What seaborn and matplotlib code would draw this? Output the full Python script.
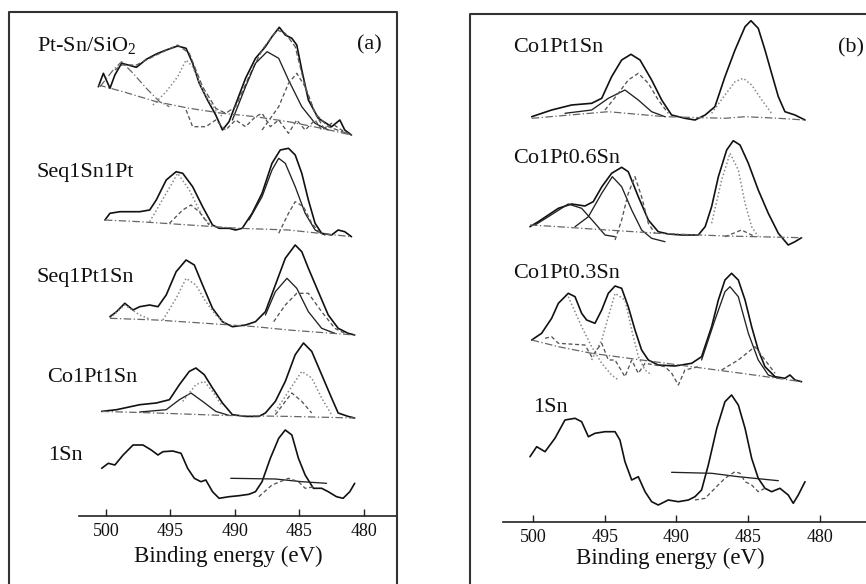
import matplotlib
matplotlib.use("Agg")
import matplotlib.pyplot as plt
import seaborn as sns
import pandas as pd
from matplotlib.lines import Line2D

# ---------------- data: (binding energy eV, intensity above spectrum baseline) ----------------
# Panel (a)
a1_raw = [(500.59, 48.3), (500.20, 61.7), (499.69, 46.7), (499.31, 60), (498.79, 71.7), (498.28, 70),
          (497.64, 67.7), (496.87, 75.7), (496.10, 81), (495.33, 85), (494.44, 89), (493.79, 86.7),
          (493.28, 71.7), (492.77, 51.7), (492.13, 35), (491.49, 20), (490.97, 5), (490.46, 13.3),
          (489.82, 35), (489.18, 56.7), (488.41, 76.7), (487.64, 88.3), (487.13, 98.3), (486.56, 107.7),
          (486.10, 100), (485.59, 96.7), (485.21, 90), (484.82, 65), (484.31, 35), (483.54, 16.7),
          (482.51, 8.3), (481.87, 15), (481.49, 5), (480.97, 0)]
a1_fit = [(499.31, 65), (498.79, 70), (497.64, 70), (496.10, 80), (494.44, 90), (493.54, 81.7),
          (492.51, 48.3), (491.49, 26.7), (490.72, 21.7), (489.95, 28.3), (488.92, 58.3), (487.90, 85),
          (486.74, 105), (486.10, 101.7), (485.33, 88.3), (484.56, 48.3), (483.79, 21.7), (482.77, 8.3),
          (480.97, 0)]
a1_c487 = [(490.20, 15), (489.18, 48.3), (488.41, 71.7), (487.51, 83.3), (486.61, 76.7), (485.85, 55),
           (484.82, 28.3), (483.79, 11.7), (482.77, 5)]
a1_c485 = [(487.90, 5), (486.61, 28.3), (485.85, 51.7), (485.21, 61.7), (484.56, 48.3), (483.79, 21.7),
           (483.03, 5)]
a1_c494 = [(496.36, 30), (495.33, 43.3), (494.44, 58.3), (493.79, 75), (493.28, 68.3), (492.51, 45),
           (491.74, 28.3), (490.97, 18.3)]
a1_c499 = [(500.46, 48.3), (499.44, 65), (498.79, 73.3), (497.90, 61.7), (496.87, 46.7), (495.84, 33.3),
           (495.08, 28.3)]
a1_res = [(493.79, 25), (493.28, 8.3), (492.26, 8.3), (491.49, 15), (490.72, 5), (489.95, 15), (489.18, 8.3),
          (488.41, 18.3), (487.90, 21.7), (487.26, 8.3), (486.61, 15), (485.85, 1.7), (485.21, 15),
          (484.56, 5), (483.79, 15), (483.28, 5), (482.51, 11.7), (481.74, 5), (480.97, 0)]
a1_bg = [(500.59, 50), (498.67, 43.3), (496.10, 33.3), (493.54, 26.7), (490.97, 21.7), (488.41, 18.3),
         (485.85, 13.3), (483.28, 6.7), (480.97, 0)]

a2_raw = [(500.08, 17), (499.69, 23.7), (498.92, 25.3), (497.38, 25.3), (496.61, 27), (496.10, 37),
          (495.33, 57), (494.56, 65.3), (494.05, 63.7), (493.28, 50.3), (492.51, 30.3), (491.74, 12),
          (491.23, 8.7), (490.46, 8.7), (489.95, 7), (489.44, 8.7), (488.67, 23.7), (487.90, 43.7),
          (487.13, 73.7), (486.49, 87), (485.85, 88.7), (485.33, 82), (484.82, 63.7), (484.31, 37),
          (483.79, 13.7), (483.28, 3.7), (482.51, 2), (482.00, 7), (481.49, 5.3), (480.97, 0.3)]
a2_c486 = [(488.92, 17), (487.90, 40.3), (487.13, 67), (486.61, 78.7), (486.10, 73.7), (485.33, 50.3),
           (484.56, 23.7), (483.79, 7), (483.03, 2)]
a2_c485 = [(486.61, 3.7), (485.85, 23.7), (485.33, 35.3), (484.69, 30.3), (484.05, 13.7), (483.28, 2)]
a2_c494 = [(496.61, 15.3), (495.33, 43.7), (494.44, 63.7), (493.54, 47), (492.51, 20.3), (491.74, 10.3)]
a2_c493 = [(495.08, 13.7), (494.05, 27), (493.41, 32), (492.77, 25.3), (492.00, 12)]
a2_bg = [(500.08, 17), (497.38, 15.3), (493.54, 12), (489.69, 8.7), (485.85, 7), (480.97, 0.3)]

a3_raw = [(499.69, 18.3), (499.18, 23.3), (498.54, 31.7), (497.90, 25), (497.38, 28.3), (496.61, 30),
          (495.97, 28.3), (495.33, 40), (494.56, 63.3), (493.79, 75), (493.15, 70), (492.51, 50),
          (491.74, 26.7), (490.97, 13.3), (490.20, 8.3), (489.18, 10), (488.41, 13.3), (487.64, 23.3),
          (486.87, 50), (486.10, 76.7), (485.33, 90), (484.82, 83.3), (484.31, 66.7), (483.54, 43.3),
          (482.77, 20), (482.00, 6.7), (481.23, 1.7), (480.72, 0)]
a3_c486 = [(487.64, 20), (486.87, 43.3), (485.97, 56.7), (485.21, 46.7), (484.31, 23.3), (483.28, 6.7),
           (482.26, 1.7)]
a3_c485 = [(487.00, 13.3), (486.10, 30), (485.21, 41.7), (484.31, 41.7), (483.28, 23.3), (482.26, 6.7),
           (481.49, 1.7)]
a3_c494 = [(495.59, 15), (494.56, 36.7), (493.79, 56.7), (493.03, 50), (492.26, 33.3), (491.49, 20),
           (490.72, 11.7)]
a3_c499 = [(499.69, 16.7), (498.54, 30), (497.38, 20), (496.61, 16)]
a3_bg = [(499.69, 16.7), (496.10, 15), (492.26, 11.7), (488.41, 8.3), (485.85, 5), (480.72, 0)]

a4_raw = [(500.33, 6.6), (499.18, 8.3), (497.38, 13.3), (496.10, 15), (495.08, 18.3), (494.31, 33.3),
          (493.54, 46.6), (493.03, 50), (492.38, 43.3), (491.74, 30), (490.97, 15), (490.20, 3.3),
          (489.18, 1.6), (488.15, 1.6), (487.64, 5), (486.87, 16.6), (486.10, 36.6), (485.33, 63.3),
          (484.69, 75), (484.05, 66.6), (483.28, 43.3), (482.51, 20), (482.00, 5), (481.23, 1.6),
          (480.72, 0)]
a4_c493s = [(497.38, 6), (495.33, 8.3), (494.31, 18.3), (493.41, 25), (492.51, 16.6), (491.49, 6.6),
            (490.46, 2.6)]
a4_c492 = [(494.05, 16.6), (493.03, 33.3), (492.38, 36.6), (491.74, 26.6), (490.97, 11.6)]
a4_c485 = [(486.87, 6.6), (485.85, 26.6), (484.82, 46.6), (484.05, 40), (483.28, 20), (482.51, 3.3)]
a4_c486 = [(486.87, 3.3), (486.10, 16.6), (485.59, 25), (484.82, 16.6), (484.05, 5)]
a4_bg = [(500.33, 6.6), (496.10, 5), (490.97, 2.6), (485.85, 1.6), (480.72, 0)]

a5_raw = [(500.33, 31.7), (499.82, 36.7), (499.31, 35), (498.67, 45), (497.90, 55), (497.13, 55),
          (496.49, 50), (495.97, 45), (495.59, 48.3), (494.82, 49), (494.18, 46.7), (493.67, 31.7),
          (493.15, 21.7), (492.64, 18.3), (492.26, 20), (491.74, 8.3), (491.23, 1.7), (490.46, 3.3),
          (489.69, 4.3), (488.92, 5.7), (488.41, 8.3), (487.90, 18.3), (487.26, 41.7), (486.61, 61.7),
          (486.10, 70), (485.59, 65), (485.08, 41.7), (484.56, 25), (483.92, 11.7), (483.28, 11.7),
          (482.77, 8.3), (482.13, 3.3), (481.62, 1.7), (481.10, 8.3), (480.72, 16.7)]
a5_bg = [(490.33, 21.7), (486.87, 21), (484.82, 18.3), (482.90, 16.7)]
a5_c486 = [(488.15, 3.3), (487.13, 15), (485.85, 21.7), (485.08, 18.3), (484.56, 11.7), (483.79, 13.3)]

# Panel (b)
b1_raw = [(500.09, 3.3), (498.70, 10), (497.31, 15), (495.91, 16.7), (495.21, 21.7), (494.52, 43.3),
          (493.82, 60), (493.17, 65.7), (492.54, 60), (491.73, 40), (491.03, 20), (490.34, 5),
          (489.41, 1.7), (488.71, 0), (488.00, 5), (487.32, 13.3), (486.62, 43.3), (485.92, 70),
          (485.22, 93.3), (484.81, 99.3), (484.30, 91.7), (483.83, 70), (483.37, 46.7), (482.90, 23.3),
          (482.44, 8.3), (481.74, 5), (481.04, 0)]
b1_c494 = [(497.77, 6.7), (495.91, 10), (494.75, 21.7), (493.59, 30), (492.66, 20), (491.73, 8.3),
           (490.80, 3.3)]
b1_c493 = [(494.98, 10), (494.05, 26.7), (493.36, 40), (492.66, 46.7), (491.96, 36.7), (491.27, 20),
           (490.57, 6.7)]
b1_c485 = [(487.55, 6.7), (486.62, 25), (485.92, 38.3), (485.34, 41.7), (484.76, 35), (484.05, 20),
           (483.37, 6.7)]
b1_bg = [(500.09, 1.7), (494.75, 8.3), (490.80, 3.3), (486.62, 1.7), (485.22, 3.3), (482.90, 1.7),
         (481.04, 0)]

b2_raw = [(500.21, 11.3), (499.63, 16.3), (498.93, 23), (498.23, 29.7), (497.31, 34), (496.38, 32),
          (495.80, 36.3), (495.20, 51.3), (494.52, 64.7), (493.82, 70.7), (493.36, 66.3), (492.66, 41.3),
          (491.96, 18), (491.27, 6.3), (490.57, 4), (489.64, 3), (488.48, 3), (488.00, 11.3),
          (487.55, 31.3), (487.08, 61.3), (486.50, 88), (486.04, 97.3), (485.57, 93), (484.99, 74.7),
          (484.30, 48), (483.60, 24.7), (482.90, 4.7), (482.21, -7), (481.74, -3.7), (481.28, 0.3)]
b2_c494 = [(497.07, 11.3), (496.14, 21.3), (495.21, 44.7), (494.47, 61.3), (493.82, 51.3), (493.12, 28),
           (492.43, 8), (491.73, -0.3), (490.80, -3.7)]
b2_c497 = [(499.86, 13), (498.93, 21.3), (497.54, 34), (496.61, 29.7), (495.68, 14.7), (494.98, 3),
           (494.28, 1.3)]
b2_c493 = [(494.28, -2), (493.82, 18), (493.36, 44.7), (492.89, 61.3), (492.43, 41.3), (491.96, 14.7),
           (491.50, 4.7)]
b2_c486 = [(487.55, 14.7), (486.85, 58), (486.27, 84.7), (485.69, 68), (485.22, 34.7), (484.76, 11.3),
           (484.30, 1.3)]
b2_c485 = [(486.62, 1.3), (485.46, 8), (484.53, 1.3)]
b2_bg = [(500.21, 13), (498.23, 11.3), (495.91, 9), (491.27, 4.7), (486.62, 2), (481.28, 0.3)]

b3_raw = [(500.09, 41.7), (499.40, 48.4), (498.70, 63.4), (498.23, 78.4), (497.54, 88.4), (497.07, 85),
          (496.61, 68.4), (496.26, 61.7), (495.68, 58.4), (495.21, 71.7), (494.75, 88.4), (494.28, 95.7),
          (493.82, 93.4), (493.36, 75), (492.89, 51.7), (492.43, 31.7), (491.96, 21.7), (491.27, 16.7),
          (490.10, 15.7), (488.94, 18.4), (488.25, 25), (487.55, 55), (487.08, 81.7), (486.62, 101.7),
          (486.16, 108.4), (485.69, 101.7), (485.22, 81.7), (484.76, 55), (484.30, 31.7), (483.83, 15),
          (483.13, 5), (482.44, 3.4), (482.09, 6.7), (481.74, 1.7), (481.28, 0)]
b3_c486 = [(488.25, 21.7), (487.32, 61.7), (486.62, 90), (486.27, 95), (485.69, 85), (484.99, 48.4),
           (484.30, 21.7), (483.60, 6.7), (482.90, 3.4)]
b3_c497 = [(497.54, 85), (496.61, 55), (495.91, 35), (495.21, 18.4), (494.52, 6.7), (494.05, 1.7)]
b3_c494 = [(495.91, 21.7), (495.21, 41.7), (494.28, 88.4), (493.59, 81.7), (493.12, 51.7), (492.66, 25),
           (492.19, 11.7), (491.73, 6.7)]
b3_c484 = [(486.85, 11.7), (485.69, 21.7), (484.53, 35), (483.83, 21.7), (483.13, 8.4)]
b3_res = [(499.16, 43.4), (498.70, 45), (498.23, 38.4), (496.38, 36.7), (495.91, 25), (495.21, 38.4),
          (494.75, 21.7), (494.28, 21.7), (493.59, 5), (493.12, 21.7), (492.66, 8.4), (492.19, 18.4),
          (490.80, 15), (490.33, 8.4), (489.87, -3.3), (489.41, 11.7), (488.48, 15)]
b3_bg = [(500.09, 41.7), (498.23, 35), (495.91, 28.4), (492.43, 21.7), (488.94, 15), (485.46, 8.4),
         (481.28, 0)]

b4_raw = [(500.21, 48.3), (499.74, 58.3), (499.16, 53.3), (498.47, 66.7), (497.77, 85), (497.07, 86.7),
          (496.61, 83.3), (496.14, 68.3), (495.68, 71.7), (494.98, 73.3), (494.28, 73.3), (493.94, 65),
          (493.59, 43.3), (493.12, 25), (492.66, 28.3), (492.19, 13.3), (491.73, 3.3), (491.27, 0),
          (490.57, 5), (489.87, 3.3), (489.17, 5), (488.71, 8.3), (488.25, 15), (487.78, 40),
          (487.19, 76.7), (486.62, 103.3), (486.16, 110), (485.69, 100), (485.22, 76.7), (484.76, 46.7),
          (484.30, 26.7), (483.83, 16.7), (483.37, 13.3), (482.79, 16.7), (482.21, 10), (481.86, 1.7),
          (481.51, 10), (481.04, 23.3)]
b4_bg = [(490.34, 32.7), (487.55, 31.7), (485.69, 28.3), (482.90, 24.3)]
b4_c486 = [(488.71, 5), (488.00, 6.7), (487.32, 16.7), (486.62, 26.7), (485.92, 33.3), (485.57, 31.7),
           (485.22, 23.3), (484.76, 20), (484.30, 13.3), (483.83, 16.7)]

labels_a = ["Pt-Sn/SiO$_2$", "Seq1Sn1Pt", "Seq1Pt1Sn", "Co1Pt1Sn", "1Sn"]
labels_b = ["Co1Pt1Sn", "Co1Pt0.6Sn", "Co1Pt0.3Sn", "1Sn"]
ticks = [500, 495, 490, 485, 480]
xlabel = "Binding energy (eV)"

# ---------------- layout / styles ----------------
W, H = 866, 584
offsets_a = [381, 279, 181, 98, 16]
offsets_b = [401.7, 283.7, 140, 16.7]

styles = {
    "raw": dict(color="#111111", lw=1.2, ls="-"),
    "fit": dict(color="#555555", lw=0.9, ls=(0, (4, 2))),
    "comp": dict(color="#222222", lw=0.95, ls="-"),
    "dash": dict(color="#555555", lw=0.95, ls=(0, (3, 2))),
    "dot": dict(color="#888888", lw=1.1, ls=(0, (1, 1.5))),
    "bg": dict(color="#666666", lw=0.9, ls=(0, (6, 2, 1, 2))),
}

curves_a = [
    [(a1_raw, "raw"), (a1_fit, "fit"), (a1_c487, "comp"), (a1_c485, "dash"), (a1_c494, "dot"),
     (a1_c499, "bg"), (a1_res, "dash"), (a1_bg, "bg")],
    [(a2_raw, "raw"), (a2_c486, "comp"), (a2_c485, "dash"), (a2_c494, "dot"), (a2_c493, "dash"),
     (a2_bg, "bg")],
    [(a3_raw, "raw"), (a3_c486, "comp"), (a3_c485, "dash"), (a3_c494, "dot"), (a3_c499, "dot"),
     (a3_bg, "bg")],
    [(a4_raw, "raw"), (a4_c493s, "comp"), (a4_c492, "dot"), (a4_c485, "dot"), (a4_c486, "dash"),
     (a4_bg, "bg")],
    [(a5_raw, "raw"), (a5_bg, "comp"), (a5_c486, "dash")],
]
curves_b = [
    [(b1_raw, "raw"), (b1_c494, "comp"), (b1_c493, "dash"), (b1_c485, "dot"), (b1_bg, "bg")],
    [(b2_raw, "raw"), (b2_c494, "comp"), (b2_c497, "comp"), (b2_c493, "dash"), (b2_c486, "dot"),
     (b2_c485, "dash"), (b2_bg, "bg")],
    [(b3_raw, "raw"), (b3_c486, "comp"), (b3_c497, "dot"), (b3_c494, "dot"), (b3_c484, "dash"),
     (b3_res, "dash"), (b3_bg, "bg")],
    [(b4_raw, "raw"), (b4_bg, "comp"), (b4_c486, "dash")],
]

sns.set_theme(style="white")
plt.rcParams["font.family"] = ["Liberation Serif", "DejaVu Serif"]
plt.rcParams["mathtext.fontset"] = "custom"
plt.rcParams["mathtext.rm"] = "Liberation Serif"
plt.rcParams["mathtext.it"] = "Liberation Serif:italic"

fig = plt.figure(figsize=(W / 100, H / 100), dpi=100)
fig.patch.set_facecolor("white")


def px_axes(left, top, right, bottom):
    return fig.add_axes([left / W, 1 - bottom / H, (right - left) / W, (bottom - top) / H])


def draw_panel(ax, curves, offsets, xlim, ylim):
    for spec, off in zip(curves, offsets):
        for pts, kind in spec:
            df = pd.DataFrame(pts, columns=["E", "I"])
            df["I"] = df["I"] + off
            st = styles[kind]
            sns.lineplot(data=df, x="E", y="I", ax=ax, sort=False, estimator=None,
                         color=st["color"], linewidth=st["lw"], linestyle=st["ls"],
                         solid_joinstyle="round")
    ax.set_xlim(*xlim)
    ax.set_ylim(*ylim)
    ax.set_facecolor("none")
    for s in ["top", "left", "right"]:
        ax.spines[s].set_visible(False)
    ax.spines["bottom"].set_color("#222222")
    ax.spines["bottom"].set_linewidth(1.2)
    ax.set_yticks([])
    ax.set_xticks(ticks)
    ax.set_xticklabels([str(t) for t in ticks])
    ax.tick_params(axis="x", direction="in", length=5, width=1, color="#222222",
                   labelsize=13, pad=5, bottom=True, labelcolor="#111111")
    ax.set_xlabel("")
    ax.set_ylabel("")


axA = px_axes(79, 12, 397, 516)
draw_panel(axA, curves_a, offsets_a, (502.09, 477.44), (0, 504))
axB = px_axes(503, 14, 866, 521.7)
draw_panel(axB, curves_b, offsets_b, (502.09, 476.79), (0, 507.7))


def ftext(x, y, s, **kw):
    fig.text(x / W, 1 - y / H, s, **kw)


def fline(xs, ys, **kw):
    fig.add_artist(Line2D([x / W for x in xs], [1 - y / H for y in ys],
                          transform=fig.transFigure, **kw))


# panel frames
fline([9, 9, 397, 397], [590, 12, 12, 590], color="#333333", lw=1.5)
fline([470, 470, 870], [590, 14, 14], color="#333333", lw=1.5)

lab_pos_a = [(37, 45), (37, 172), (37, 277), (47, 377), (48, 455)]
for s, (x, y) in zip(labels_a, lab_pos_a):
    ftext(x, y, s, ha="left", va="center", fontsize=16, color="#111111")
lab_pos_b = [(513, 48), (513, 158), (513, 273), (533, 407)]
for s, (x, y) in zip(labels_b, lab_pos_b):
    ftext(x, y, s, ha="left", va="center", fontsize=16, color="#111111")

ftext(382, 45, "(a)", ha="right", va="center", fontsize=16, color="#111111")
ftext(864, 48, "(b)", ha="right", va="center", fontsize=16, color="#111111")
ftext(228, 556, xlabel, ha="center", va="center", fontsize=16.5, color="#111111")
ftext(670, 558, xlabel, ha="center", va="center", fontsize=16.5, color="#111111")

fig.savefig("out.png", dpi=100, facecolor="white")
